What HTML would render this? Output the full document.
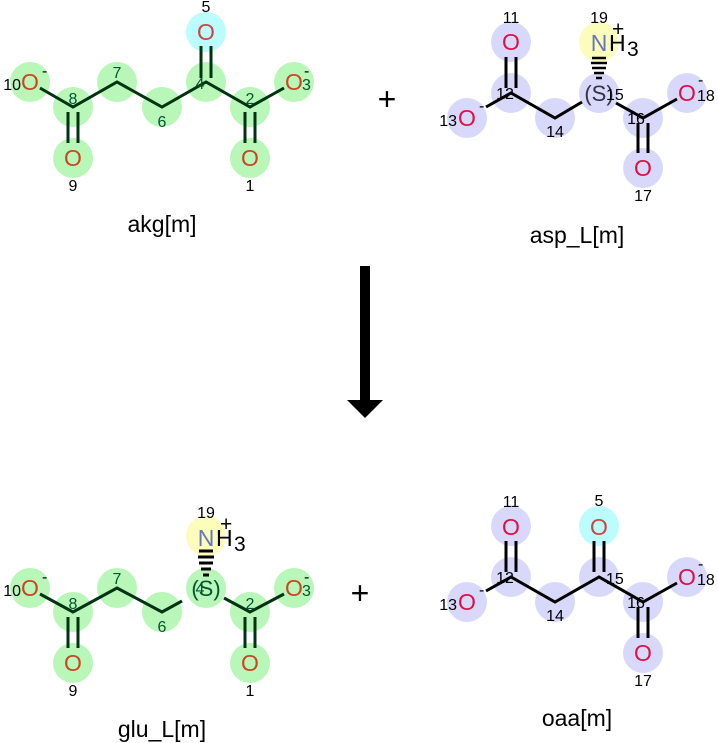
<!DOCTYPE html>
<html><head><meta charset="utf-8"><style>
html,body{margin:0;padding:0;background:#fff}
svg{display:block;font-family:"Liberation Sans",sans-serif}
.o{fill:#cc4422;font-size:23px}
.o2{fill:#dd1144;font-size:23px}
.n{fill:#6677bb;font-size:23px}
.num{font-size:16px;fill:#000}
.gn{font-size:16px;fill:#053}
.nm{font-size:23px;fill:#000}
</style></head><body>
<svg width="718" height="743" viewBox="0 0 718 743">
<g>
<g fill="#b8f7b8"><circle cx="30" cy="82" r="20"/><circle cx="73" cy="107" r="20"/><circle cx="117" cy="82" r="20"/><circle cx="162" cy="107" r="20"/><circle cx="206" cy="82" r="20"/><circle cx="250" cy="107" r="20"/><circle cx="294" cy="82" r="20"/><circle cx="73" cy="158" r="20"/><circle cx="250" cy="158" r="20"/></g>
<circle cx="206" cy="32" r="20" fill="#bbfcfc"/>
<g stroke="#031" stroke-width="3" fill="none"><path d="M40 88 L73 107 L117 82 L162 107 L206 82 L250 107 L284 88"/><path d="M68 112 V143 M78 112 V143 M245 112 V143 M255 112 V143 M201 78 V46 M211 78 V46"/></g>
<text x="30" y="90" class="o" text-anchor="middle">O</text><text x="21" y="90" class="num" text-anchor="end">10</text><text x="42" y="76" class="num">-</text>
<text x="294" y="90" class="o" text-anchor="middle">O</text><text x="302" y="90" class="gn">3</text><text x="304" y="76" class="num">-</text>
<text x="206" y="40" class="o" text-anchor="middle" style="fill:#c44">O</text><text x="206" y="12" class="num" text-anchor="middle">5</text>
<text x="73" y="166" class="o" text-anchor="middle">O</text><text x="73" y="191" class="num" text-anchor="middle">9</text>
<text x="250" y="166" class="o" text-anchor="middle">O</text><text x="250" y="191" class="num" text-anchor="middle">1</text>
<text x="73" y="104" class="gn" text-anchor="middle">8</text><text x="117" y="78" class="gn" text-anchor="middle">7</text><text x="162" y="127" class="gn" text-anchor="middle">6</text><text x="200" y="89" class="gn" text-anchor="middle">4</text><text x="250" y="104" class="gn" text-anchor="middle">2</text>
<text x="162" y="232" class="nm" text-anchor="middle">akg[m]</text>
</g>
<g>
<g fill="#b8f7b8"><circle cx="30" cy="588" r="20"/><circle cx="73" cy="612" r="20"/><circle cx="117" cy="588" r="20"/><circle cx="162" cy="612" r="20"/><circle cx="206" cy="588" r="20"/><circle cx="250" cy="612" r="20"/><circle cx="294" cy="588" r="20"/><circle cx="73" cy="663" r="20"/><circle cx="250" cy="663" r="20"/></g>
<circle cx="206" cy="536" r="20" fill="#fcfcbb"/>
<g stroke="#031" stroke-width="3" fill="none"><path d="M40 594 L73 612 L117 588 L162 612 L182 601 M224 598 L250 612 L284 594"/><path d="M68 617 V648 M78 617 V648 M245 617 V648 M255 617 V648"/></g>
<g stroke="#000" stroke-width="3"><path d="M199 551 H213 M198 557 H214 M199 563 H213 M201 569 H211 M203 575 H209"/></g>
<text x="206" y="546" class="n" text-anchor="middle">N</text><text x="216" y="546" style="font-size:23px">H</text><text x="234" y="551" style="font-size:21px">3</text><text x="220" y="531" style="font-size:21px">+</text><text x="206" y="518" class="num" text-anchor="middle">19</text>
<text x="206" y="596" style="font-size:22px;fill:#053" text-anchor="middle">(S)</text><text x="200" y="594" class="gn" text-anchor="middle">4</text>
<text x="30" y="596" class="o" text-anchor="middle">O</text><text x="21" y="596" class="num" text-anchor="end">10</text><text x="42" y="582" class="num">-</text>
<text x="294" y="596" class="o" text-anchor="middle">O</text><text x="302" y="596" class="gn">3</text><text x="304" y="582" class="num">-</text>
<text x="73" y="671" class="o" text-anchor="middle">O</text><text x="73" y="696" class="num" text-anchor="middle">9</text>
<text x="250" y="671" class="o" text-anchor="middle">O</text><text x="250" y="696" class="num" text-anchor="middle">1</text>
<text x="73" y="609" class="gn" text-anchor="middle">8</text><text x="117" y="584" class="gn" text-anchor="middle">7</text><text x="162" y="632" class="gn" text-anchor="middle">6</text><text x="250" y="609" class="gn" text-anchor="middle">2</text>
<text x="162" y="737" class="nm" text-anchor="middle">glu_L[m]</text>
</g>
<g>
<g fill="#d8d8fb"><circle cx="511" cy="42" r="20"/><circle cx="511" cy="93" r="20"/><circle cx="467" cy="118" r="20"/><circle cx="555" cy="118" r="20"/><circle cx="599" cy="93" r="20"/><circle cx="643" cy="118" r="20"/><circle cx="687" cy="93" r="20"/><circle cx="643" cy="168" r="20"/></g>
<circle cx="599" cy="42" r="20" fill="#fcfcbb"/>
<g stroke="#000" stroke-width="3" fill="none"><path d="M486 107 L511 93 L555 118 L582 102 M616 103 L643 118 L677 99"/><path d="M506 88 V57 M516 88 V57 M638 123 V153 M648 123 V153"/><path d="M592 58 H606 M591 63 H607 M592 68 H606 M594 73 H604 M596 78 H602" stroke-width="2.5"/></g>
<text x="599" y="51" class="n" text-anchor="middle">N</text><text x="609" y="51" style="font-size:23px">H</text><text x="627" y="56" style="font-size:21px">3</text><text x="612" y="36" style="font-size:21px">+</text><text x="599" y="23" class="num" text-anchor="middle">19</text>
<text x="599" y="101" style="font-size:22px;fill:#334" text-anchor="middle">(S)</text><text x="606" y="100" class="num">15</text>
<text x="511" y="50" class="o2" text-anchor="middle">O</text><text x="511" y="23" class="num" text-anchor="middle">11</text>
<text x="467" y="126" class="o2" text-anchor="middle">O</text><text x="457" y="126" class="num" text-anchor="end">13</text><text x="479" y="111" class="num">-</text>
<text x="687" y="101" class="o2" text-anchor="middle">O</text><text x="697" y="101" class="num">18</text><text x="698" y="85" class="num">-</text>
<text x="643" y="176" class="o2" text-anchor="middle">O</text><text x="643" y="201" class="num" text-anchor="middle">17</text>
<text x="505" y="99" class="num" text-anchor="middle">12</text><text x="555" y="137" class="num" text-anchor="middle">14</text><text x="636" y="124" class="num" text-anchor="middle">16</text>
<text x="577" y="243" class="nm" text-anchor="middle">asp_L[m]</text>
</g>
<g>
<g fill="#d8d8fb"><circle cx="511" cy="526" r="20"/><circle cx="511" cy="577" r="20"/><circle cx="467" cy="602" r="20"/><circle cx="555" cy="602" r="20"/><circle cx="599" cy="577" r="20"/><circle cx="643" cy="602" r="20"/><circle cx="687" cy="577" r="20"/><circle cx="643" cy="653" r="20"/></g>
<circle cx="599" cy="526" r="20" fill="#bbfcfc"/>
<g stroke="#000" stroke-width="3" fill="none"><path d="M486 591 L511 577 L555 602 L599 577 L643 602 L677 583"/><path d="M506 572 V541 M516 572 V541 M638 607 V638 M648 607 V638 M594 572 V541 M604 572 V541"/></g>
<text x="599" y="535" class="o" text-anchor="middle" style="fill:#c44">O</text><text x="599" y="506" class="num" text-anchor="middle">5</text>
<text x="511" y="535" class="o2" text-anchor="middle">O</text><text x="511" y="507" class="num" text-anchor="middle">11</text>
<text x="467" y="610" class="o2" text-anchor="middle">O</text><text x="457" y="610" class="num" text-anchor="end">13</text><text x="479" y="595" class="num">-</text>
<text x="687" y="585" class="o2" text-anchor="middle">O</text><text x="697" y="585" class="num">18</text><text x="698" y="569" class="num">-</text>
<text x="643" y="661" class="o2" text-anchor="middle">O</text><text x="643" y="686" class="num" text-anchor="middle">17</text>
<text x="505" y="583" class="num" text-anchor="middle">12</text><text x="555" y="621" class="num" text-anchor="middle">14</text><text x="606" y="584" class="num">15</text><text x="636" y="608" class="num" text-anchor="middle">16</text>
<text x="577" y="726" class="nm" text-anchor="middle">oaa[m]</text>
</g>
<text x="387" y="110" style="font-size:32px" text-anchor="middle">+</text>
<text x="360" y="604" style="font-size:32px" text-anchor="middle">+</text>
<rect x="360" y="266" width="10" height="136" fill="#000"/>
<path d="M347 400 H383 L365 418 Z" fill="#000"/>
</svg>
</body></html>
